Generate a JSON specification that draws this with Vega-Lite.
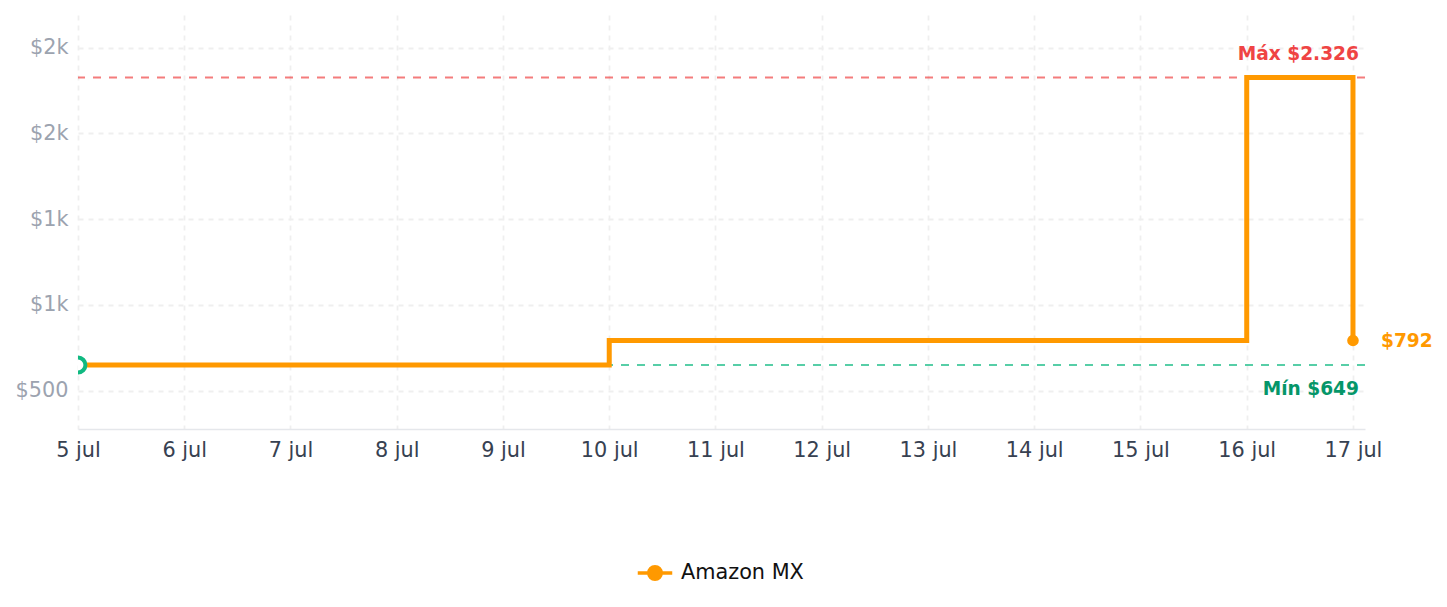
{
  "$schema": "https://vega.github.io/schema/vega-lite/v6.json",
  "width": 1287,
  "height": 414,
  "autosize": "none",
  "padding": {"left": 78, "top": 15, "right": 82, "bottom": 178},
  "background": "white",
  "config": {
    "font": "DejaVu Sans",
    "view": {"stroke": null},
    "axis": {"gridColor": "#efefef", "gridDash": [5, 5], "gridWidth": 1.8, "ticks": false, "title": null}
  },
  "datasets": {
    "precios": [
      {"fecha": "2025-07-05", "precio": 649, "tienda": "Amazon MX"},
      {"fecha": "2025-07-10", "precio": 792, "tienda": "Amazon MX"},
      {"fecha": "2025-07-16", "precio": 2326, "tienda": "Amazon MX"},
      {"fecha": "2025-07-17", "precio": 792, "tienda": "Amazon MX"}
    ],
    "refs": [
      {"tipo": "max", "precio": 2326, "label": "Máx $2.326"},
      {"tipo": "min", "precio": 649, "label": "Mín $649"}
    ]
  },
  "layer": [
    {
      "data": {"name": "refs"},
      "transform": [{"filter": "datum.tipo == 'max'"}],
      "mark": {"type": "rule", "color": "#ef4444", "opacity": 0.7, "strokeDash": [8, 8], "strokeWidth": 2},
      "encoding": {"y": {"field": "precio", "type": "quantitative"}}
    },
    {
      "data": {"name": "refs"},
      "transform": [{"filter": "datum.tipo == 'min'"}],
      "mark": {"type": "rule", "color": "#10b981", "opacity": 0.7, "strokeDash": [8, 8], "strokeWidth": 2},
      "encoding": {"y": {"field": "precio", "type": "quantitative"}}
    },
    {
      "data": {"name": "precios"},
      "mark": {"type": "line", "interpolate": "step-after", "strokeWidth": 5},
      "encoding": {
        "x": {
          "field": "fecha", "type": "temporal",
          "scale": {"type": "utc", "domain": [{"year": 2025, "month": 7, "date": 5, "utc": true}, {"year": 2025, "month": 7, "date": 17, "hours": 2, "minutes": 43, "utc": true}]},
          "axis": {
            "values": [
              {"year": 2025, "month": 7, "date": 5, "utc": true},
              {"year": 2025, "month": 7, "date": 6, "utc": true},
              {"year": 2025, "month": 7, "date": 7, "utc": true},
              {"year": 2025, "month": 7, "date": 8, "utc": true},
              {"year": 2025, "month": 7, "date": 9, "utc": true},
              {"year": 2025, "month": 7, "date": 10, "utc": true},
              {"year": 2025, "month": 7, "date": 11, "utc": true},
              {"year": 2025, "month": 7, "date": 12, "utc": true},
              {"year": 2025, "month": 7, "date": 13, "utc": true},
              {"year": 2025, "month": 7, "date": 14, "utc": true},
              {"year": 2025, "month": 7, "date": 15, "utc": true},
              {"year": 2025, "month": 7, "date": 16, "utc": true},
              {"year": 2025, "month": 7, "date": 17, "utc": true}
            ],
            "labelExpr": "utcFormat(datum.value, '%-d') + ' jul'",
            "labelFontSize": 20.8, "labelColor": "#374151", "labelPadding": 11,
            "domainColor": "#e5e7eb", "domainWidth": 1.5, "labelFlush": false, "labelOverlap": false
          }
        },
        "y": {
          "field": "precio", "type": "quantitative",
          "scale": {"domain": [276, 2690], "nice": false, "zero": false},
          "axis": {
            "values": [500, 1000, 1500, 2000, 2500],
            "labelExpr": "datum.value < 1000 ? '$' + datum.value : '$' + floor(datum.value / 1000) + 'k'",
            "labelFontSize": 20.8, "labelColor": "#9ca3af", "labelPadding": 10, "domain": false
          }
        },
        "color": {
          "field": "tienda", "type": "nominal",
          "scale": {"range": ["#ff9900"]},
          "legend": {
            "title": null, "orient": "none", "legendX": 558, "legendY": 539,
            "symbolType": "M -1 0 L 1 0 M -0.36 0 A 0.36 0.36 0 1 0 0.36 0 A 0.36 0.36 0 1 0 -0.36 0 Z",
            "symbolSize": 1190, "symbolStrokeWidth": 3.5,
            "labelFontSize": 20.8, "labelColor": "#111111", "labelOffset": 7,
            "encode": {"symbols": {"update": {"fill": {"value": "#ff9900"}, "fillOpacity": {"value": 1}, "stroke": {"value": "#ff9900"}, "opacity": {"value": 1}}}}
          }
        }
      }
    },
    {
      "data": {"name": "precios"},
      "transform": [{"filter": "datum.precio == 649"}],
      "mark": {"type": "circle", "fill": "#ffffff", "fillOpacity": 1, "stroke": "#10b981", "strokeWidth": 4, "size": 220, "opacity": 1, "clip": true},
      "encoding": {
        "x": {"field": "fecha", "type": "temporal"},
        "y": {"field": "precio", "type": "quantitative"}
      }
    },
    {
      "data": {"name": "precios"},
      "transform": [
        {"window": [{"op": "rank", "as": "r"}], "sort": [{"field": "fecha", "order": "descending"}]},
        {"filter": "datum.r == 1"}
      ],
      "layer": [
        {
          "mark": {"type": "circle", "color": "#ff9900", "size": 135, "opacity": 1},
          "encoding": {
            "x": {"field": "fecha", "type": "temporal"},
            "y": {"field": "precio", "type": "quantitative"}
          }
        },
        {
          "mark": {"type": "text", "color": "#ff9900", "fontWeight": "bold", "fontSize": 18.6, "align": "left", "baseline": "middle", "dx": 28},
          "encoding": {
            "x": {"field": "fecha", "type": "temporal"},
            "y": {"field": "precio", "type": "quantitative"},
            "text": {"field": "precio", "type": "quantitative", "format": "$d"}
          }
        }
      ]
    },
    {
      "data": {"name": "refs"},
      "transform": [{"filter": "datum.tipo == 'max'"}],
      "mark": {"type": "text", "color": "#ef4444", "fontWeight": "bold", "fontSize": 18.6, "align": "right", "baseline": "middle", "x": "width", "dx": -6, "dy": -23.5},
      "encoding": {
        "y": {"field": "precio", "type": "quantitative"},
        "text": {"field": "label"}
      }
    },
    {
      "data": {"name": "refs"},
      "transform": [{"filter": "datum.tipo == 'min'"}],
      "mark": {"type": "text", "color": "#059669", "fontWeight": "bold", "fontSize": 18.6, "align": "right", "baseline": "middle", "x": "width", "dx": -6, "dy": 23.5},
      "encoding": {
        "y": {"field": "precio", "type": "quantitative"},
        "text": {"field": "label"}
      }
    }
  ]
}
